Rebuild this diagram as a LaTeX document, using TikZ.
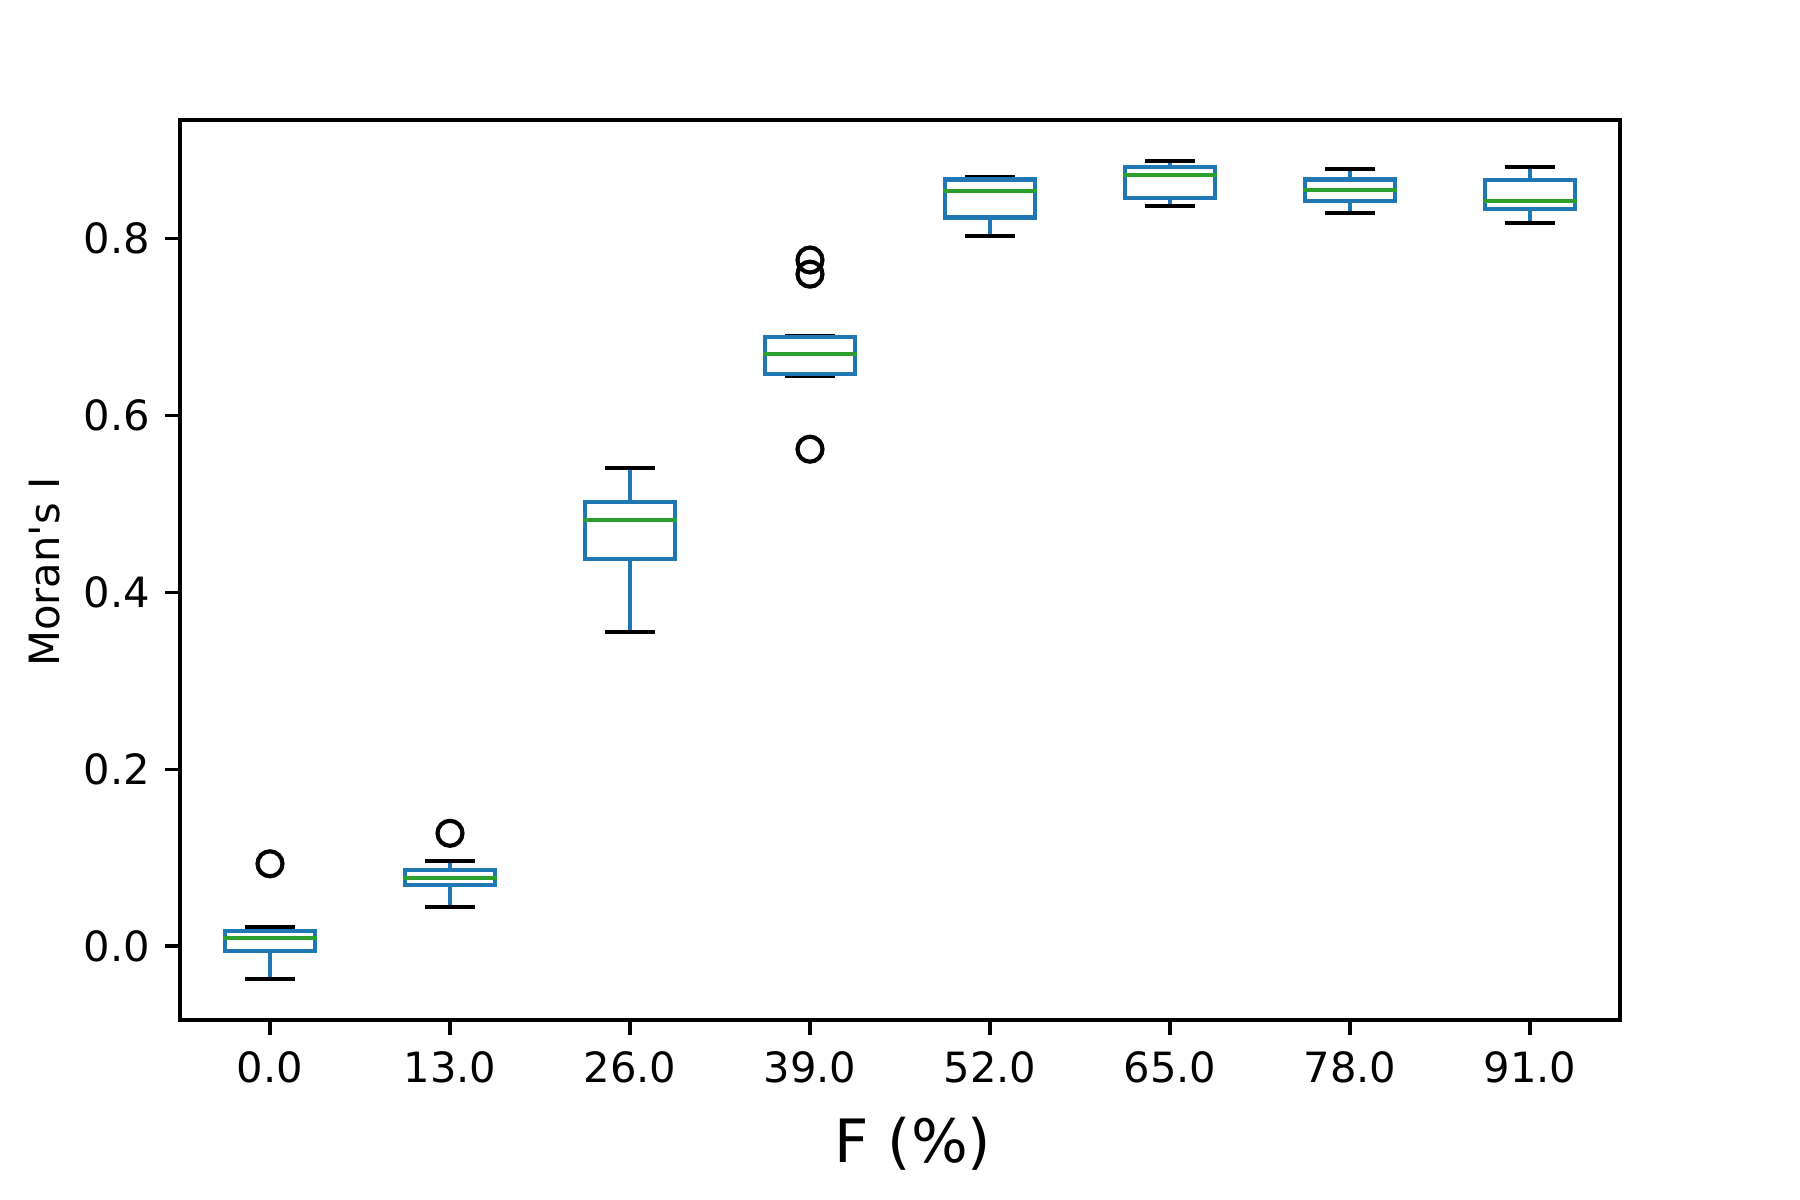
\documentclass[tikz,border=0pt]{standalone}
\usepackage{fontspec}
\setmainfont{DejaVu Sans}[Ligatures=TeXOff]
\definecolor{cblue}{HTML}{1F77B4}
\definecolor{cgreen}{HTML}{2CA02C}
\tikzset{
  spine/.style={line width=0.948pt, black, line join=miter},
  tickline/.style={line width=0.948pt, black},
  whisk/.style={line width=1.185pt, cblue, line cap=rect},
  capline/.style={line width=1.185pt, black, line cap=rect},
  boxline/.style={line width=1.185pt, cblue, line join=miter},
  medline/.style={line width=1.185pt, cgreen, line cap=rect},
  flier/.style={line width=1.185pt, black},
  ticklab/.style={inner sep=0pt, font=\fontsize{11.86}{14}\selectfont},
  axlab/.style={inner sep=0pt, font=\fontsize{11.86}{14}\selectfont},
  xlab/.style={inner sep=0pt, font=\fontsize{17}{20}\selectfont},
}
\newcommand{\mybox}[6]{% pos, lo, q1, med, q3, hi
  \draw[whisk] (#1,#3) -- (#1,#2);
  \draw[whisk] (#1,#5) -- (#1,#6);
  \draw[capline] (#1-0.125,#2) -- (#1+0.125,#2);
  \draw[capline] (#1-0.125,#6) -- (#1+0.125,#6);
  \draw[boxline] (#1-0.25,#3) rectangle (#1+0.25,#5);
  \draw[medline] (#1-0.25,#4) -- (#1+0.25,#4);
}
\begin{document}
\begin{tikzpicture}
\useasboundingbox[fill=white] (0,0) rectangle (18,12);
% axes frame
\draw[spine] (1.8,1.8) rectangle (16.2,10.8);
\begin{scope}[shift={(0.9,2.54)}, x=1.8cm, y=8.84cm]
  % y ticks
  \foreach \v/\t in {0/0.0,0.2/0.2,0.4/0.4,0.6/0.6,0.8/0.8} {
    \draw[tickline] (0.5,\v) -- ++(-0.146cm,0);
    \node[ticklab, anchor=east] (yt\t) at ([xshift=-0.292cm]0.5,\v) {\t};
  }
  % x ticks
  \foreach \p/\t in {1/0.0,2/13.0,3/26.0,4/39.0,5/52.0,6/65.0,7/78.0,8/91.0} {
    \draw[tickline] (\p,-0.08371) -- ++(0,-0.146cm);
  }
  % boxes
  \mybox{1}{-0.0373}{-0.0053}{0.0094}{0.0173}{0.0218}
  \mybox{2}{0.0445}{0.0690}{0.0773}{0.0856}{0.0958}
  \mybox{3}{0.3556}{0.4382}{0.4815}{0.5023}{0.5410}
  \mybox{4}{0.6444}{0.6467}{0.6700}{0.6890}{0.6900}
  \mybox{5}{0.8030}{0.8240}{0.8540}{0.8670}{0.8700}
  \mybox{6}{0.8370}{0.8460}{0.8720}{0.8810}{0.8880}
  \mybox{7}{0.8296}{0.8424}{0.8556}{0.8670}{0.8786}
  \mybox{8}{0.8180}{0.8333}{0.8424}{0.8669}{0.8816}
  % fliers
  \draw[flier] (1,0.0930) circle[radius=1.25mm];
  \draw[flier] (2,0.1275) circle[radius=1.25mm];
  \draw[flier] (4,0.7760) circle[radius=1.25mm];
  \draw[flier] (4,0.7600) circle[radius=1.25mm];
  \draw[flier] (4,0.5620) circle[radius=1.25mm];
\end{scope}
% x tick labels
\foreach \x/\t [count=\i] in {2.7/0.0,4.5/13.0,6.3/26.0,8.1/39.0,9.9/52.0,11.7/65.0,13.5/78.0,15.3/91.0} {
  \node[ticklab, anchor=base] (xt\i) at (\x,1.18) {\t};
}
% axis labels
\node[axlab, rotate=90, anchor=base] (ylabel) at (0.595,6.28) {Moran's I};
\node[xlab, anchor=base] (xlabel) at (9.13,0.373) {F (\%)};
\end{tikzpicture}
\end{document}
